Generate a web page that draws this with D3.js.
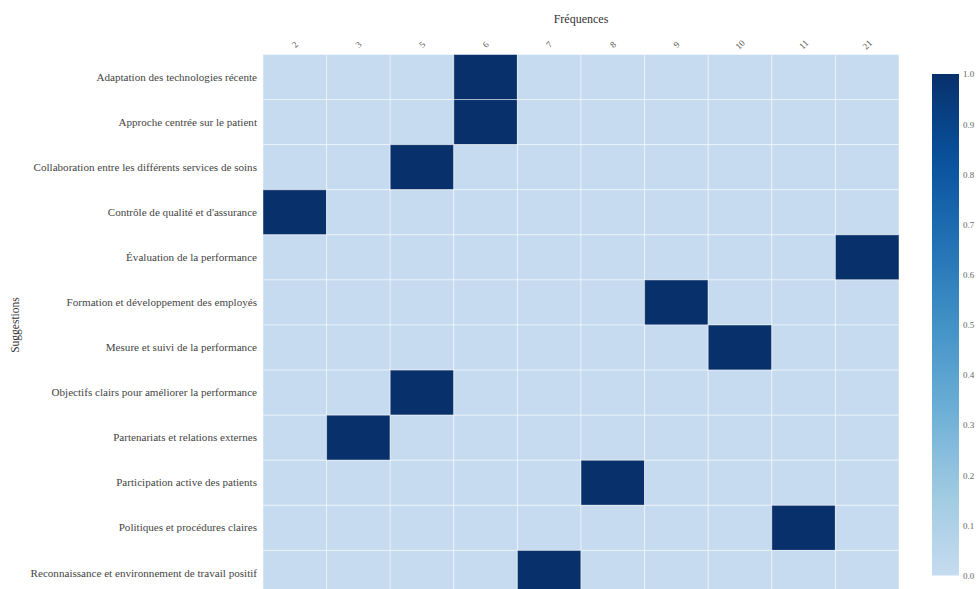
<!DOCTYPE html>
<html>
<head>
<meta charset="utf-8">
<script src="https://cdn.jsdelivr.net/npm/d3@7"></script>
<style>
  html, body { margin: 0; padding: 0; background: #fff; }
  svg { display: block; font-family: "Liberation Serif", "DejaVu Serif", serif; }
</style>
</head>
<body>
<svg id="chart" width="979" height="589"></svg>
<script>
// Suggestions (rows) and observed frequency values (columns)
const suggestions = [
  "Adaptation des technologies récente",
  "Approche centrée sur le patient",
  "Collaboration entre les différents services de soins",
  "Contrôle de qualité et d'assurance",
  "Évaluation de la performance",
  "Formation et développement des employés",
  "Mesure et suivi de la performance",
  "Objectifs clairs pour améliorer la performance",
  "Partenariats et relations externes",
  "Participation active des patients",
  "Politiques et procédures claires",
  "Reconnaissance et environnement de travail positif"
];
const frequencies = ["2", "3", "5", "6", "7", "8", "9", "10", "11", "21"];
// Frequency reported for each suggestion
const suggestionFrequency = ["6", "6", "5", "2", "21", "9", "10", "5", "3", "8", "11", "7"];
const colorTicks = [0, 0.1, 0.2, 0.3, 0.4, 0.5, 0.6, 0.7, 0.8, 0.9, 1.0];

// Indicator matrix: 1 where the suggestion has that frequency, else 0
const cells = [];
suggestions.forEach((s, i) => {
  frequencies.forEach(f => {
    cells.push({ row: s, col: f, value: suggestionFrequency[i] === f ? 1 : 0 });
  });
});

const svg = d3.select("#chart");
const plot = { left: 263, right: 899, top: 54.5, bottom: 595.5 };

const x = d3.scaleBand().domain(frequencies).range([plot.left, plot.right]);
const y = d3.scaleBand().domain(suggestions).range([plot.top, plot.bottom]);

const blues = ["#c6dbef", "#9ecae1", "#6baed6", "#4292c6", "#2171b5", "#08519c", "#08306b"];
const color = d3.scaleLinear()
  .domain(d3.range(blues.length).map(i => i / (blues.length - 1)))
  .range(blues)
  .interpolate(d3.interpolateRgb);

// Heatmap cells
svg.append("g")
  .selectAll("rect")
  .data(cells)
  .join("rect")
  .attr("x", d => x(d.col))
  .attr("y", d => y(d.row))
  .attr("width", x.bandwidth())
  .attr("height", y.bandwidth())
  .attr("fill", d => color(d.value))
  .attr("stroke", "#ffffff")
  .attr("stroke-opacity", 0.45)
  .attr("stroke-width", 1);

// Top axis (frequencies)
const xAxis = svg.append("g")
  .attr("transform", `translate(0,${plot.top})`)
  .call(d3.axisTop(x).tickSize(0).tickPadding(0));
xAxis.select(".domain").remove();
xAxis.selectAll("text")
  .attr("font-family", "Liberation Serif, serif")
  .attr("font-size", 9)
  .attr("fill", "#555")
  .attr("text-anchor", "middle")
  .attr("transform", "translate(0,-10) rotate(-45)")
  .attr("dy", "0.35em");

// Left axis (suggestions)
const yAxis = svg.append("g")
  .attr("transform", `translate(${plot.left},0)`)
  .call(d3.axisLeft(y).tickSize(0).tickPadding(6));
yAxis.select(".domain").remove();
yAxis.selectAll("text")
  .attr("font-family", "Liberation Serif, serif")
  .attr("font-size", 11.1)
  .attr("fill", "#444");

// Axis titles
svg.append("text")
  .attr("x", (plot.left + plot.right) / 2)
  .attr("y", 23)
  .attr("text-anchor", "middle")
  .attr("font-size", 12)
  .attr("fill", "#333")
  .text("Fréquences");

svg.append("text")
  .attr("transform", `translate(19,${(plot.top + plot.bottom) / 2}) rotate(-90)`)
  .attr("text-anchor", "middle")
  .attr("font-size", 11.5)
  .attr("fill", "#333")
  .text("Suggestions");

// Colour bar
const cb = { x: 932, w: 27, top: 74, bottom: 575.5 };
const cbScale = d3.scaleLinear().domain([0, 1]).range([cb.bottom, cb.top]);
const defs = svg.append("defs");
const grad = defs.append("linearGradient")
  .attr("id", "cbgrad")
  .attr("x1", 0).attr("y1", 1).attr("x2", 0).attr("y2", 0);
d3.range(0, 1.0001, 0.05).forEach(t => {
  grad.append("stop").attr("offset", t).attr("stop-color", color(t));
});
svg.append("rect")
  .attr("x", cb.x)
  .attr("y", cb.top)
  .attr("width", cb.w)
  .attr("height", cb.bottom - cb.top)
  .attr("fill", "url(#cbgrad)");

const cbAxis = svg.append("g")
  .attr("transform", `translate(${cb.x + cb.w},0)`)
  .call(d3.axisRight(cbScale).tickValues(colorTicks).tickFormat(d3.format(".1f")).tickSize(0).tickPadding(4));
cbAxis.select(".domain").remove();
cbAxis.selectAll("text")
  .attr("font-family", "Liberation Serif, serif")
  .attr("font-size", 9)
  .attr("fill", "#666");
</script>
</body>
</html>
